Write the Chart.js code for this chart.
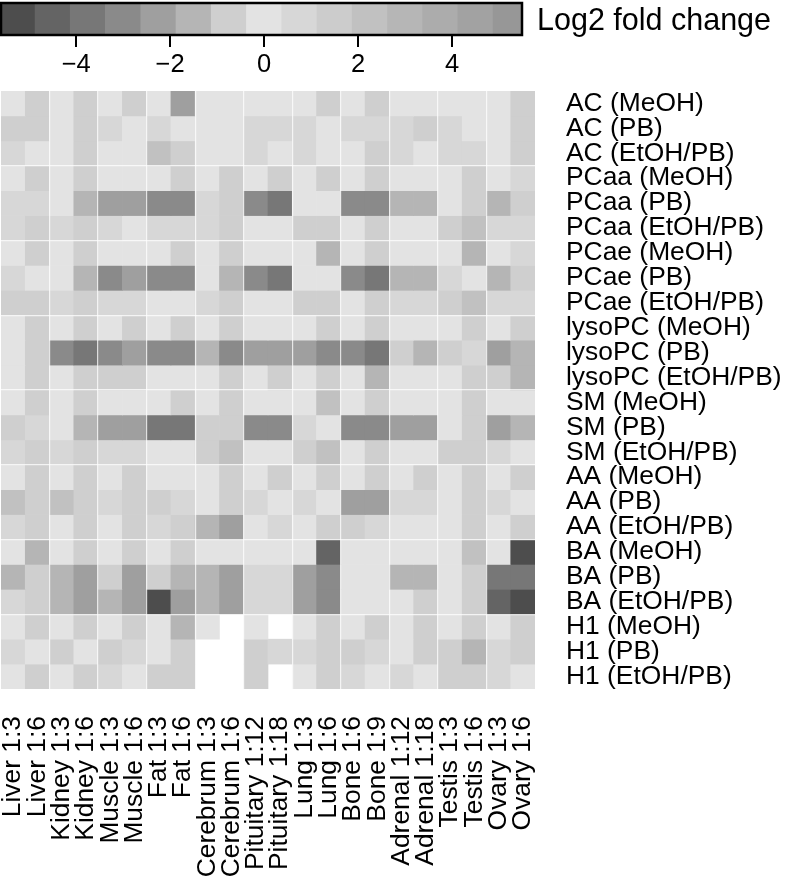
<!DOCTYPE html>
<html>
<head>
<meta charset="utf-8">
<script src="https://cdn.jsdelivr.net/npm/chart.js@4.4.1/dist/chart.umd.min.js"></script>
<style>
  html, body { margin: 0; padding: 0; background: #ffffff; }
  #wrap { position: relative; width: 786px; height: 880px; overflow: hidden; background: #ffffff; }
  #heat { position: absolute; left: 0; top: 0; }
  #leg { position: absolute; left: 0; top: 0; }
  #legTitle { position: absolute; left: 537px; top: 4px; font-family: "Liberation Sans", Arial, sans-serif;
              font-size: 30.5px; line-height: 1; color: #000; white-space: nowrap; }
</style>
</head>
<body>
<div id="wrap">
  <canvas id="heat" width="786" height="880"></canvas>
  <canvas id="leg" width="786" height="80"></canvas>
  <div id="legTitle">Log2 fold change</div>
</div>
<script>
// ---------------- DATA ----------------
const columns = ['Liver 1:3', 'Liver 1:6', 'Kidney 1:3', 'Kidney 1:6', 'Muscle 1:3', 'Muscle 1:6',
  'Fat 1:3', 'Fat 1:6', 'Cerebrum 1:3', 'Cerebrum 1:6', 'Pituitary 1:12', 'Pituitary 1:18',
  'Lung 1:3', 'Lung 1:6', 'Bone 1:6', 'Bone 1:9', 'Adrenal 1:12', 'Adrenal 1:18',
  'Testis 1:3', 'Testis 1:6', 'Ovary 1:3', 'Ovary 1:6'];

const classes = ['AC', 'PCaa', 'PCae', 'lysoPC', 'SM', 'AA', 'BA', 'H1'];
const extractions = ['MeOH', 'PB', 'EtOH/PB'];

// log2 fold change per class: rows = MeOH, PB, EtOH/PB ; columns as above (null = missing)
const AC = [
  [0, -0.8, 0, -0.8, 0, -0.8, 0, -2.3, 0, 0, 0, 0, 0, -0.8, 0, -0.8, 0, 0, 0, 0, 0, -0.8],
  [-0.8, -0.8, 0, -0.8, 0.8, 0, 0.8, 0, 0, 0, 0.8, 0.8, 0.8, 0, 0.8, 0.8, 0.8, -0.8, 0.8, 0, 0, -0.8],
  [0.8, 0, 0, -0.8, 0, 0, 2.2, -0.8, 0, 0, 0.8, 0, 0.8, 0, 0, -0.8, 0.8, 0, 0.8, 0.8, 0, -0.8]
];
const PCaa = [
  [0, -0.8, 0, -0.8, 0, 0, 0, -0.8, 0, -0.8, 0, -0.8, 0, -0.8, 0, -0.8, 0, 0, 0, -0.8, 0, 0.8],
  [0.8, 0.8, 0, -1.6, -2.3, -2.3, -3.1, -3.1, 0.8, -0.8, -3.1, -3.8, 0, 0, -3.1, -3.1, -1.6, -1.6, 0, -0.8, -1.6, -0.8],
  [0.8, -0.8, 0.8, -0.8, 0.8, 0, 0.8, 0.8, 0.8, -0.8, 0, 0, -0.8, -0.8, 0, -0.8, 0, 0, -0.8, 2.2, 0.8, 0.8]
];
const PCae = [
  [0, -0.8, 0, -0.8, 0, 0, 0, -0.8, 0, -0.8, 0, 0, 0, -1.6, 0, -0.8, 0, 0, 0, -1.6, 0, 0.8],
  [0.8, 0, 0, -1.6, -3.1, -2.3, -3.1, -3.1, 0, -1.6, -3.1, -3.8, 0, 0, -3.1, -3.8, -1.6, -1.6, 0.8, 0, -1.6, -0.8],
  [-0.8, -0.8, 0.8, -0.8, 0.8, 0.8, 0, 0, 0.8, -0.8, 0, 0, -0.8, -0.8, 0, -0.8, 0.8, 0.8, -0.8, 2.2, 0.8, 0.8]
];
const lysoPC = [
  [0, -0.8, 0, -0.8, 0, -0.8, 0, -0.8, 0, -0.8, 0, 0, 0, -0.8, 0, -0.8, 0, 0, 0, -0.8, 0, -0.8],
  [0, -0.8, -3.1, -3.8, -3.1, -2.3, -3.1, -3.1, -1.6, -3.1, -2.3, -2.3, -2.3, -3.1, -3.1, -3.8, -0.8, -1.6, -0.8, 0.8, -2.3, -1.6],
  [0, -0.8, 0, -0.8, -0.8, -0.8, 0, 0, 0, -0.8, 0, -0.8, 0, -0.8, 0, -1.6, 0, 0, 0, -0.8, -0.8, -1.6]
];
const SM = [
  [0, -0.8, 0, -0.8, 0, 0, 0, -0.8, 0, -0.8, 0, 0, 0, 2.2, 0, -0.8, 0, 0, 0, -0.8, 0, 0],
  [-0.8, 0.8, 0, -1.6, -2.3, -2.3, -3.8, -3.8, -0.8, -0.8, -3.1, -3.1, 0.8, 0, -3.1, -3.1, -2.3, -2.3, 0, -0.8, -2.3, -1.6],
  [0.8, -0.8, 0.8, -0.8, 0.8, 0.8, 0, 0, -0.8, 2.2, 0, 0, -0.8, 2.2, 0, -0.8, 0, 0, -0.8, -0.8, 0.8, 0]
];
const AA = [
  [0, -0.8, 0, -0.8, 0, -0.8, 0, 0, 0, -0.8, 0, -0.8, 0, -0.8, 0, -0.8, 0, -0.8, 0, -0.8, 0, -0.8],
  [2.2, -0.8, 2.2, -0.8, 0.8, -0.8, -0.8, 0.8, 0, -0.8, 0.8, 0, 0.8, 0, -2.3, -2.3, 0.8, 0.8, 0, -0.8, 0.8, 0],
  [0.8, -0.8, 0, -0.8, 0, -0.8, 0.8, -0.8, -1.6, -2.3, 0, 0.8, 0, -0.8, -0.8, 0.8, 0, 0, 0, -0.8, 0, -0.8]
];
const BA = [
  [0, -1.6, 0, -0.8, 0, -0.8, 0, -0.8, 0, 0, 0, 0, 0, -4.6, 0, 0, 0, 0, 0, 2.2, 0, -5.3],
  [-1.6, -0.8, -1.6, -2.3, -0.8, -2.3, -0.8, -1.6, -1.6, -2.3, 0.8, 0.8, -2.3, -3.1, 0, 0, -1.6, -1.6, 0, -0.8, -3.8, -3.8],
  [0.8, -0.8, -1.6, -2.3, -1.6, -2.3, -5.3, -2.3, -1.6, -2.3, 0.8, 0.8, -2.3, -3.1, 0, 0, 0, -0.8, 0, -0.8, -4.6, -5.3]
];
const H1 = [
  [0, -0.8, 0, -0.8, 0, -0.8, 0, -1.6, 0, null, 0, null, 0, -0.8, 0, -0.8, 0, -0.8, 0, -0.8, 0, -0.8],
  [0.8, 0, -0.8, 0, -0.8, 0.8, 0, -0.8, null, null, -0.8, 0.8, 0.8, -0.8, -0.8, 0.8, 0, -0.8, -0.8, -1.6, 0.8, -0.8],
  [0, -0.8, 0, -0.8, 0.8, 0, -0.8, -0.8, null, null, -0.8, null, 0, -0.8, 0.8, 0, 0.8, 0, -0.8, -0.8, 0.8, 0]
];

const legendTicks = [-4, -2, 0, 2, 4];
const binStart = -5.625;
const binWidth = 0.75;

// ---------------- STYLE ----------------
const palette = ['#4d4d4d', '#646464', '#777777', '#8a8a8a', '#9f9f9f', '#b5b5b5', '#cfcfcf', '#e3e3e3',
  '#d7d7d7', '#cccccc', '#c1c1c1', '#b6b6b6', '#acacac', '#a2a2a2', '#979797'];
const FONT = '"Liberation Sans", Arial, Helvetica, sans-serif';
Chart.defaults.font.family = FONT;
Chart.defaults.color = '#000';

const rowLabels = classes.flatMap(c => extractions.map(e => c + ' (' + e + ')'));
const rows = [AC, PCaa, PCae, lysoPC, SM, AA, BA, H1].flat();
const legendBins = palette.map((c, i) => binStart + binWidth * (i + 0.5));

function colorFor(v) {
  if (v === null || v === undefined) return 'rgba(0,0,0,0)';
  let i = Math.floor((v - binStart) / binWidth);
  i = Math.max(0, Math.min(palette.length - 1, i));
  return palette[i];
}
const sepColor = 'rgba(255,255,255,0.75)';

// ---------------- HEATMAP ----------------
new Chart(document.getElementById('heat'), {
  type: 'bar',
  data: {
    labels: columns,
    datasets: rows.map((vals, r) => ({
      label: rowLabels[r],
      data: vals.map(() => 1),
      backgroundColor: vals.map(colorFor),
      borderWidth: 0,
      barPercentage: 1,
      categoryPercentage: 1,
      xAxisID: 'x',
      yAxisID: 'y'
    }))
  },
  options: {
    responsive: false,
    animation: false,
    events: [],
    layout: { padding: { top: 91, left: 1, right: 0, bottom: 0 } },
    plugins: { legend: { display: false }, tooltip: { enabled: false } },
    scales: {
      x: {
        type: 'category',
        stacked: true,
        offset: true,
        border: { display: false },
        grid: {
          offset: true, z: 1, drawTicks: true, tickLength: 27,
          tickColor: 'rgba(0,0,0,0)', lineWidth: 1.2,
          color: ctx => (ctx.index > 0 && ctx.index < columns.length && ctx.index % 2 === 0) ? sepColor : 'rgba(0,0,0,0)'
        },
        ticks: { autoSkip: false, minRotation: 90, maxRotation: 90, padding: 0, font: { size: 26.4 }, color: '#000' },
        afterFit: s => { s.height = 191; }
      },
      y: { type: 'linear', stacked: true, min: 0, max: rows.length, reverse: true, display: false },
      yl: {
        type: 'category',
        labels: rowLabels,
        position: 'right',
        offset: true,
        border: { display: false },
        grid: {
          offset: true, z: 1, drawTicks: true, tickLength: 31,
          tickColor: 'rgba(0,0,0,0)', lineWidth: 1.2,
          color: ctx => (ctx.index > 0 && ctx.index < rowLabels.length && ctx.index % 3 === 0) ? sepColor : 'rgba(0,0,0,0)'
        },
        ticks: { autoSkip: false, padding: 0, font: { size: 26.4 }, color: '#000' },
        afterFit: s => { s.width = 251; }
      }
    }
  }
});

// ---------------- COLOR KEY ----------------
const boxBorder = {
  id: 'boxBorder',
  afterDatasetsDraw(chart) {
    const a = chart.chartArea, ctx = chart.ctx;
    ctx.save();
    ctx.lineWidth = 2.5;
    ctx.strokeStyle = '#000';
    ctx.strokeRect(a.left, a.top, a.right - a.left, a.bottom - a.top);
    ctx.restore();
  }
};

new Chart(document.getElementById('leg'), {
  type: 'bar',
  data: {
    datasets: [{
      data: legendBins.map(b => ({ x: b, y: 1 })),
      backgroundColor: palette,
      borderWidth: 0,
      barPercentage: 1,
      categoryPercentage: 1,
      clip: 0
    }]
  },
  plugins: [boxBorder],
  options: {
    responsive: false,
    animation: false,
    events: [],
    layout: { padding: { top: 3, left: 1, right: 264, bottom: 0 } },
    plugins: { legend: { display: false }, tooltip: { enabled: false } },
    scales: {
      x: {
        type: 'linear',
        min: -5.6, max: 5.49,
        offset: false,
        border: { display: false },
        grid: { offset: false, drawOnChartArea: false, drawTicks: true, tickLength: 12, color: '#000', lineWidth: 2 },
        afterBuildTicks: s => { s.ticks = legendTicks.map(v => ({ value: v })); },
        ticks: {
          padding: 3, font: { size: 25.5 }, color: '#000',
          callback: v => (v < 0 ? '\u2212' + Math.abs(v) : String(v))
        },
        afterFit: s => { s.height = 45; }
      },
      y: { type: 'linear', min: 0, max: 1, display: false }
    }
  }
});
</script>
</body>
</html>
